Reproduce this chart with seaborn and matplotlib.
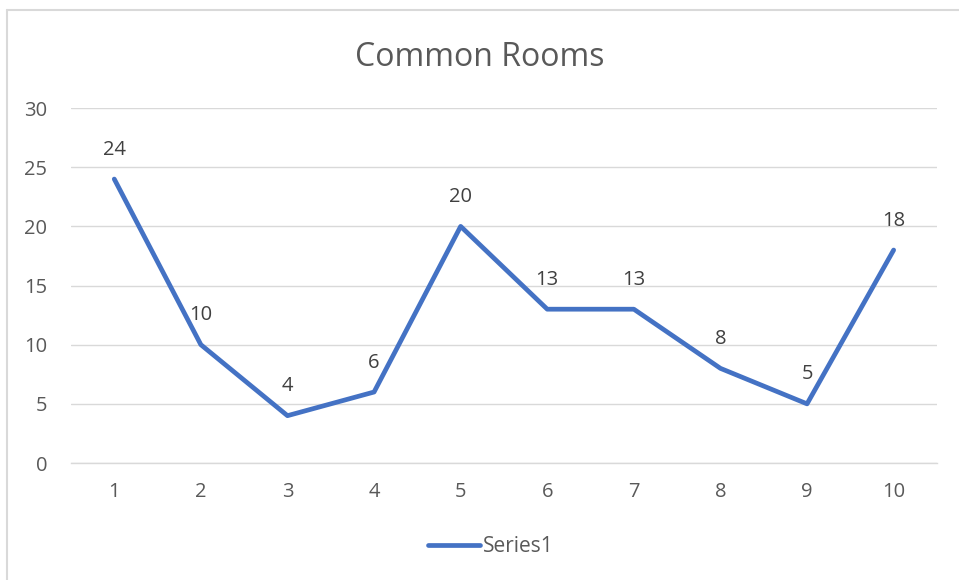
import numpy as np
import pandas as pd
import matplotlib
matplotlib.use("Agg")
import matplotlib.pyplot as plt
import seaborn as sns
from matplotlib.lines import Line2D

# datos del grafico
categorias = [1, 2, 3, 4, 5, 6, 7, 8, 9, 10]
valores = [24, 10, 4, 6, 20, 13, 13, 8, 5, 18]
ticks_y = [0, 5, 10, 15, 20, 25, 30]
titulo = "Common Rooms"
nombre_serie = "Series1"

AZUL = "#4472C4"
GRIS_TEXTO = "#595959"
GRIS_GRID = "#D9D9D9"

sns.set_style("white")
plt.rcParams['font.family'] = ['Open Sans', 'DejaVu Sans']

df = pd.DataFrame({"x": categorias, "y": valores})

fig = plt.figure(figsize=(9.59, 5.8), dpi=100)
ax = fig.add_axes([0.074, 0.2017, 0.903, 0.612])

sns.lineplot(data=df, x="x", y="y", ax=ax, color=AZUL, linewidth=3.4,
             solid_capstyle="round", solid_joinstyle="round", legend=False)

for xi, yi in zip(categorias, valores):
    ax.annotate(str(yi), (xi, yi), xytext=(0, 14), textcoords="offset points",
                ha="center", va="bottom", fontsize=14.5, color="#404040")

ax.set_xlim(0.5, 10.5)
ax.set_ylim(0, 30)
ax.set_yticks(ticks_y)
ax.set_xticks(categorias)
ax.set_xticklabels([str(c) for c in categorias])
ax.yaxis.grid(True, color=GRIS_GRID, linewidth=1)
ax.set_axisbelow(True)
for s in ["top", "right", "left"]:
    ax.spines[s].set_visible(False)
ax.spines["bottom"].set_color(GRIS_GRID)
ax.spines["bottom"].set_linewidth(1)
ax.tick_params(axis="both", length=0, labelsize=14.5, labelcolor=GRIS_TEXTO)
ax.tick_params(axis="x", pad=14)
ax.tick_params(axis="y", pad=17)
ax.set_xlabel("")
ax.set_ylabel("")

fig.text(0.5, 0.9, titulo, ha="center", va="center", fontsize=23, color=GRIS_TEXTO)

handle = Line2D([0], [0], color=AZUL, linewidth=3.4, solid_capstyle="round")
fig.legend([handle], [nombre_serie], loc="center", bbox_to_anchor=(0.512, 0.057),
           frameon=False, fontsize=15, labelcolor=GRIS_TEXTO,
           handlelength=2.5, handletextpad=0.15)

# borde del area del grafico
fig.add_artist(Line2D([0.0073, 0.0073], [0, 0.983], color=GRIS_GRID, linewidth=1.5,
                      transform=fig.transFigure))
fig.add_artist(Line2D([0.0073, 1], [0.983, 0.983], color=GRIS_GRID, linewidth=1.5,
                      transform=fig.transFigure))

fig.savefig("out.png", dpi=100)
